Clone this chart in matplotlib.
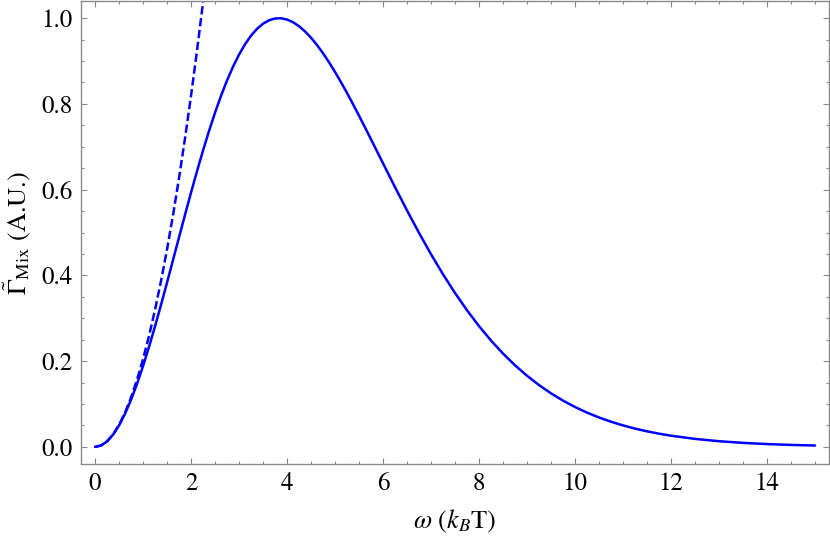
import matplotlib
matplotlib.use("Agg")
import matplotlib.pyplot as plt
from matplotlib.ticker import MultipleLocator

# Solid curve: normalized mixing rate vs omega
omega = [0.0, 0.125, 0.25, 0.375, 0.5, 0.625, 0.75, 0.875, 1.0, 1.125, 1.25,
         1.375, 1.5, 1.625, 1.75, 1.875, 2.0, 2.125, 2.25, 2.375, 2.5, 2.625,
         2.75, 2.875, 3.0, 3.125, 3.25, 3.375, 3.5, 3.625, 3.75, 3.875, 4.0,
         4.125, 4.25, 4.375, 4.5, 4.625, 4.75, 4.875, 5.0, 5.125, 5.25,
         5.375, 5.5, 5.625, 5.75, 5.875, 6.0, 6.25, 6.5, 6.75, 7.0, 7.25,
         7.5, 7.75, 8.0, 8.25, 8.5, 8.75, 9.0, 9.25, 9.5, 9.75, 10.0, 10.25,
         10.5, 10.75, 11.0, 11.25, 11.5, 11.75, 12.0, 12.5, 13.0, 13.5, 14.0,
         14.5, 15.0]
gamma_mix = [0.0, 0.00320, 0.01274, 0.02848, 0.05017, 0.07748, 0.10999,
             0.14722, 0.18862, 0.23360, 0.28150, 0.33168, 0.38346, 0.43617,
             0.48914, 0.54174, 0.59337, 0.64347, 0.69152, 0.73706, 0.77967,
             0.81903, 0.85485, 0.88693, 0.91506, 0.93918, 0.95922, 0.97519,
             0.98711, 0.99510, 0.99927, 0.99978, 0.99683, 0.99055, 0.98122,
             0.96910, 0.95437, 0.93731, 0.91815, 0.89715, 0.87452, 0.85052,
             0.82547, 0.79929, 0.77248, 0.74510, 0.71736, 0.68943, 0.66143,
             0.60583, 0.55149, 0.49915, 0.44938, 0.40255, 0.35893, 0.31863,
             0.28170, 0.24809, 0.21769, 0.19037, 0.16593, 0.14418, 0.12493,
             0.10794, 0.09302, 0.07997, 0.06858, 0.05868, 0.05010, 0.04269,
             0.03630, 0.03081, 0.02610, 0.01864, 0.01323, 0.00933, 0.00654,
             0.00457, 0.00317]

# Dashed curve: low-frequency asymptote
omega_asym = [0.0, 0.125, 0.25, 0.375, 0.5, 0.625, 0.75, 0.875, 1.0, 1.125,
              1.25, 1.375, 1.5, 1.625, 1.75, 1.875, 2.0, 2.125, 2.25, 2.375,
              2.5]
gamma_asym = [0.0, 0.00320, 0.01281, 0.02881, 0.05122, 0.08003, 0.11524,
              0.15686, 0.20488, 0.25930, 0.32012, 0.38735, 0.46098, 0.54101,
              0.62744, 0.72028, 0.81951, 0.92516, 1.03720, 1.15565, 1.28050]

xticks = [0, 2, 4, 6, 8, 10, 12, 14]
yticks = [0.0, 0.2, 0.4, 0.6, 0.8, 1.0]

plt.rcParams['font.family'] = ['STIXGeneral', 'DejaVu Serif']
plt.rcParams['mathtext.fontset'] = 'stix'
plt.rcParams['lines.scale_dashes'] = False

fig = plt.figure(figsize=(8.3, 5.4), dpi=100)
ax = fig.add_axes([0.0972, 0.1407, 0.9020, 0.8574])

ax.plot(omega, gamma_mix, color=(0, 0, 1), lw=1.8, solid_capstyle='round',
        solid_joinstyle='round')
line, = ax.plot(omega_asym, gamma_asym, color=(0, 0, 1), lw=1.8)
line.set_dashes((6, 2.6))

ax.set_xlim(-0.3, 15.3)
ax.set_ylim(-0.04, 1.04)
ax.set_xticks(xticks)
ax.set_yticks(yticks)
ax.set_xticklabels([str(t) for t in xticks])
ax.set_yticklabels([f"{t:.1f}" for t in yticks])
ax.xaxis.set_minor_locator(MultipleLocator(0.5))
ax.yaxis.set_minor_locator(MultipleLocator(0.05))

gray = '#8a8a8a'
for s in ax.spines.values():
    s.set_color(gray)
    s.set_linewidth(1.0)
ax.tick_params(which='both', direction='in', top=True, right=True,
               color=gray, width=0.8, labelcolor='black')
ax.tick_params(which='major', length=4.0, labelsize=18, pad=6)
ax.tick_params(which='minor', length=2.2)

ax.set_xlabel(r'$\omega$ ($k_B$T)', fontsize=19, labelpad=8)
ax.set_ylabel(r'$\tilde{\Gamma}_{\mathrm{Mix}}$ (A.U.)', fontsize=19, labelpad=6)

fig.savefig('out.png', dpi=100)
